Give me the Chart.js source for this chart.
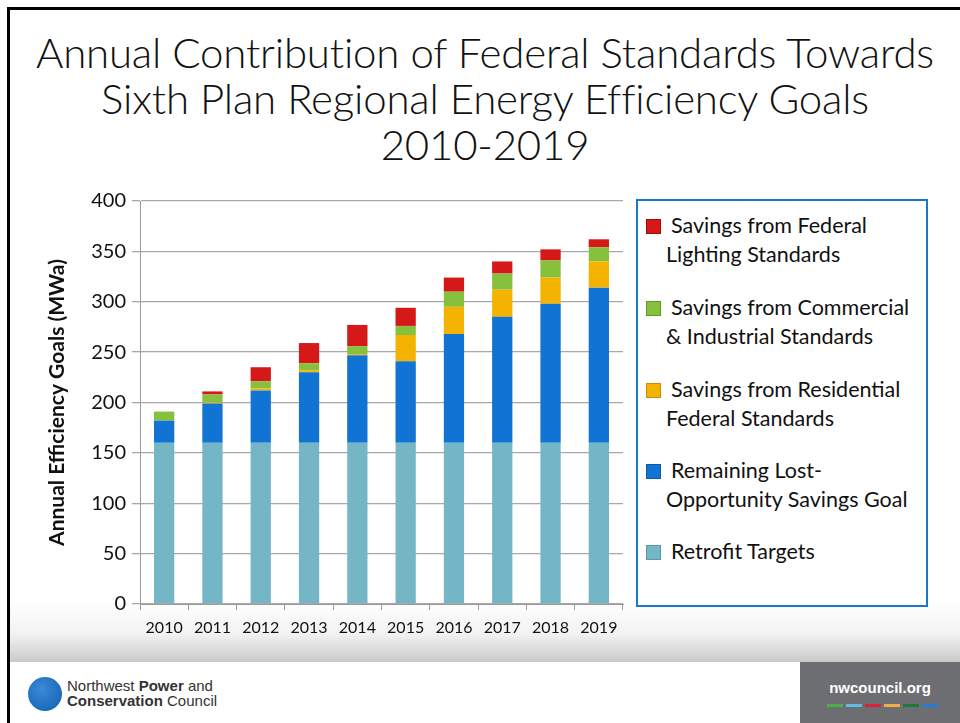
<!DOCTYPE html>
<html>
<head>
<meta charset="utf-8">
<script src="https://cdn.jsdelivr.net/npm/chart.js@4"></script>
<style>
  html, body { margin: 0; padding: 0; }
  body { width: 960px; height: 723px; position: relative; overflow: hidden; background: #fff; font-family: Lato, "Open Sans", sans-serif; }
  #frame { position: absolute; left: 7px; top: 7px; right: 0; bottom: 0; border-left: 3px solid #000; border-top: 3px solid #000; }
  #band { position: absolute; left: 10px; right: 0; top: 600px; height: 62px; background: linear-gradient(#ffffff, #f2f2f2 55%, #c9c9c9); }
  #title { position: absolute; left: 10px; right: 0; top: 29px; text-align: center; font-size: 42px; font-weight: 300; line-height: 46px; color: #111; letter-spacing: -0.2px; }
  #chartBox { position: absolute; left: 20px; top: 180px; width: 610px; height: 470px; }
  #legend { position: absolute; left: 636px; top: 199px; width: 288px; height: 404px; border: 2px solid #1a78c8; box-sizing: content-box; }
  #legend ul { list-style: none; margin: 0; padding: 0; }
  #legend li { position: absolute; left: 33px; width: 255px; font-size: 21.5px; line-height: 29px; color: #111; white-space: nowrap; }
  #legend li span.box { position: absolute; left: -25px; top: 8px; width: 13px; height: 13px; }
  #footer { position: absolute; left: 10px; right: 0; top: 662px; bottom: 0; background: #fff; }
  #logo { position: absolute; left: 28px; top: 677px; width: 34px; height: 34px; border-radius: 50%; background: radial-gradient(circle at 40% 35%, #3a8ad8, #0f5fb0); }
  #logoText { position: absolute; left: 67px; top: 678px; font-size: 15px; line-height: 15px; color: #333; font-family: "Liberation Sans", sans-serif; }
  #webBox { position: absolute; left: 800px; top: 662px; right: 0; bottom: 0; background: #6d6e71; }
  #webText { position: absolute; left: 0; right: 0; top: 17px; text-align: center; color: #fff; font-weight: bold; font-size: 15px; font-family: "Liberation Sans", sans-serif; }
  #dashes { position: absolute; left: 27px; top: 42px; height: 3px; display: flex; gap: 3px; }
  #dashes i { display: block; width: 16px; height: 3px; }
</style>
</head>
<body>
<div id="frame"></div>
<div id="band"></div>
<div id="title">Annual Contribution of Federal Standards Towards<br>Sixth Plan Regional Energy Efficiency Goals<br>2010-2019</div>
<div id="chartBox"><canvas id="chart"></canvas></div>
<div id="legend"><ul id="legendList"></ul></div>
<div id="footer"></div>
<div id="logo"></div>
<div id="logoText">Northwest <b>Power</b> and<br><b>Conservation</b> Council</div>
<div id="webBox">
  <div id="webText">nwcouncil.org</div>
  <div id="dashes"><i style="background:#4cae4c"></i><i style="background:#5bc0de"></i><i style="background:#d9213b"></i><i style="background:#f0ad4e"></i><i style="background:#1e7a3c"></i><i style="background:#2a7ad0"></i></div>
</div>
<script>
const years = ["2010", "2011", "2012", "2013", "2014", "2015", "2016", "2017", "2018", "2019"];

const retrofit    = [160, 160, 160, 160, 160, 160, 160, 160, 160, 160];
const lostOpp     = [22, 39, 52, 70, 87, 81, 108, 125, 138, 154];
const residential = [0, 1, 2, 2, 1, 26, 27, 27, 26, 26];
const commercial  = [9, 8, 7, 7, 8, 9, 15, 16, 17, 14];
const lighting    = [0, 3, 14, 20, 21, 18, 14, 12, 11, 8];

const yTicks = [0, 50, 100, 150, 200, 250, 300, 350, 400];

const seriesLabels = [
  "Retrofit Targets",
  "Remaining Lost-Opportunity Savings Goal",
  "Savings from Residential Federal Standards",
  "Savings from Commercial & Industrial Standards",
  "Savings from Federal Lighting Standards"
];
// legend text as it wraps in the box
const legendLines = [
  ["Retrofit Targets"],
  ["Remaining Lost-", "Opportunity Savings Goal"],
  ["Savings from Residential", "Federal Standards"],
  ["Savings from Commercial", "& Industrial Standards"],
  ["Savings from Federal", "Lighting Standards"]
];
const colors = ["#74b6c6", "#1173d4", "#f3b300", "#86c03c", "#d51818"];
const borders = ["#5a98a8", "#0a5aa8", "#c98f00", "#5f9a25", "#a00c0c"];

const ctx = document.getElementById("chart").getContext("2d");

const datasets = [retrofit, lostOpp, residential, commercial, lighting].map((vals, i) => ({
  label: seriesLabels[i],
  data: vals,
  backgroundColor: colors[i],
  borderColor: borders[i],
  borderWidth: 0,
  barPercentage: 0.42,
  categoryPercentage: 1
}));

new Chart(ctx, {
  type: "bar",
  data: { labels: years, datasets: datasets },
  options: {
    responsive: true,
    maintainAspectRatio: false,
    animation: false,
    layout: { padding: { top: 21, right: 7, left: 0, bottom: 0 } },
    plugins: {
      legend: { display: false },
      tooltip: { enabled: false }
    },
    scales: {
      x: {
        stacked: true,
        grid: { display: true, drawOnChartArea: false, tickLength: 6, color: "#9a9a9a" },
        border: { color: "#9a9a9a" },
        ticks: { color: "#111", font: { family: "Lato", size: 16 }, padding: 8 },
        afterFit: s => { s.height = 46; }
      },
      y: {
        stacked: true,
        min: 0,
        max: 400,
        afterBuildTicks: s => { s.ticks = yTicks.map(v => ({ value: v })); },
        grid: { color: "#a8a8a8", tickLength: 8, lineWidth: 1.3 },
        border: { color: "#9a9a9a" },
        ticks: { color: "#111", font: { family: "Lato", size: 20 }, padding: 6 },
        title: {
          display: true,
          text: "Annual Efficiency Goals (MWa)",
          color: "#111",
          font: { family: "Lato", size: 21, weight: "bold" },
          padding: { top: 25, bottom: 0 }
        },
        afterFit: s => { s.width = 120; }
      }
    }
  }
});

// legend, top item is the top of the stack
const list = document.getElementById("legendList");
const tops = [336, 255, 174, 92, 10];
for (let i = seriesLabels.length - 1; i >= 0; i--) {
  const li = document.createElement("li");
  li.style.top = tops[i] + "px";
  const box = document.createElement("span");
  box.className = "box";
  box.style.background = colors[i];
  box.style.border = "1px solid " + borders[i];
  li.appendChild(box);
  li.appendChild(document.createTextNode(legendLines[i][0]));
  if (legendLines[i][1]) {
    li.appendChild(document.createElement("br"));
    const span = document.createElement("span");
    span.style.marginLeft = "-5px";
    span.textContent = legendLines[i][1];
    li.appendChild(span);
  }
  list.appendChild(li);
}
</script>
</body>
</html>
